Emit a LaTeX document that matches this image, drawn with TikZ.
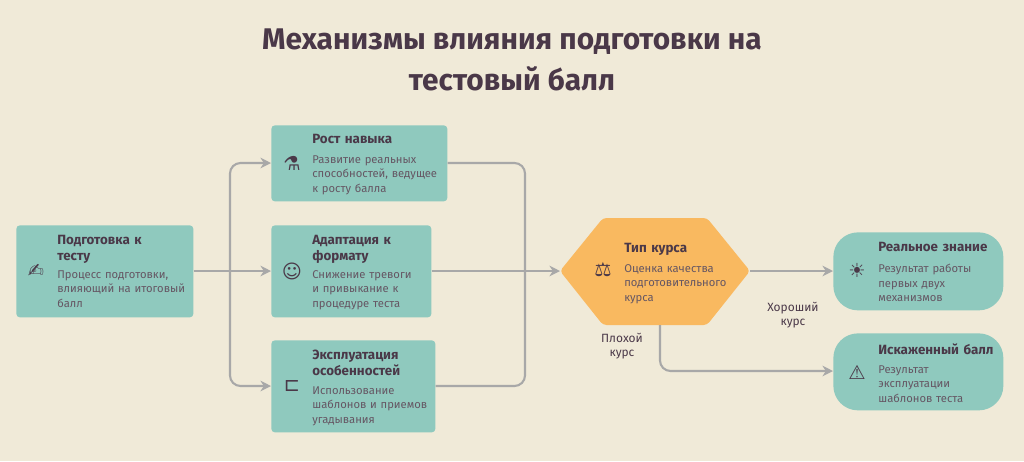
\documentclass[tikz,border=0pt]{standalone}
\usepackage{fontspec}
\setmainfont{Fira Sans}
\newfontfamily\symfont{DejaVu Sans}
\usetikzlibrary{arrows.meta}
\definecolor{bg}{HTML}{F0EAD8}
\definecolor{teal}{HTML}{8FC9BE}
\definecolor{orng}{HTML}{F9B960}
\definecolor{ink}{HTML}{4A3848}
\definecolor{wire}{HTML}{A8A8A8}
\begin{document}
\begin{tikzpicture}[x=0.02cm, y=-0.02cm,
  box/.style={fill=teal, rounded corners=2pt, inner sep=0pt, anchor=north west},
  head/.style={anchor=north west, font=\bfseries\fontsize{7.6}{9}\selectfont, text=ink, text width=#1, align=left, inner sep=0pt},
  body/.style={anchor=north west, font=\fontsize{6.4}{8.3}\selectfont, text=ink!85, text width=#1, align=left, inner sep=0pt},
  icon/.style={font=\symfont\fontsize{11}{11}\selectfont, text=ink},
  wire/.style={draw=wire, line width=1.2pt, rounded corners=6pt},
  tip/.style={-{Stealth[length=6pt,width=6pt]}}]
\fill[bg] (0,0) rectangle (1024,461);
\useasboundingbox (0,0) rectangle (1024,461);

% title
\node[font=\bfseries\fontsize{17}{23}\selectfont, text=ink, align=center] (title) at (512,60)
  {Механизмы влияния подготовки на\\тестовый балл};

% boxes
\node[box, minimum width=177*0.02cm, minimum height=92*0.02cm] (prep) at (16,225) {};
\node[box, minimum width=176*0.02cm, minimum height=76*0.02cm] (skill) at (271,125) {};
\node[box, minimum width=160*0.02cm, minimum height=92*0.02cm] (adapt) at (271,225) {};
\node[box, minimum width=164*0.02cm, minimum height=92*0.02cm] (expl) at (271,340) {};
\node[box, rounded corners=14pt, minimum width=170*0.02cm, minimum height=78*0.02cm] (real) at (833,232) {};
\node[box, rounded corners=14pt, minimum width=170*0.02cm, minimum height=77*0.02cm] (dist) at (833,333) {};
\coordinate (course) at (655,271);
\fill[orng, rounded corners=2pt] (560,271) -- (603,218) -- (707,218) -- (750,271) -- (707,325) -- (603,325) -- cycle;

% texts
\node[head=100*0.02cm] at (57,235) {Подготовка к тесту};
\node[body=135*0.02cm] at (57,270) {Процесс подготовки, влияющий на итоговый балл};
\node[icon] (iprep) at (36,271) {✍};
\node[head=120*0.02cm] at (312,134) {Рост навыка};
\node[body=130*0.02cm] at (312,155) {Развитие реальных способностей, ведущее к росту балла};
\node[icon] (iskill) at (292,163) {⚗};
\node[head=110*0.02cm] at (312,235) {Адаптация к формату};
\node[body=115*0.02cm] at (312,270) {Снижение тревоги и привыкание к процедуре теста};
\node[icon] (iadapt) at (292,271) {☺};
\node[head=110*0.02cm] at (312,350) {Эксплуатация особенностей};
\node[body=118*0.02cm] at (312,386) {Использование шаблонов и приемов угадывания};
\node[icon] (iexpl) at (292,386) {⊏};
\node[head=110*0.02cm] at (624,243) {Тип курса};
\node[body=105*0.02cm] at (624,264) {Оценка качества подготовительного курса};
\node[icon] (icourse) at (603,270) {⚖};
\node[head=120*0.02cm] at (878,242) {Реальное знание};
\node[body=110*0.02cm] at (878,264) {Результат работы первых двух механизмов};
\node[icon] (ireal) at (857,270) {☀};
\node[head=120*0.02cm] at (878,343) {Искаженный балл};
\node[body=100*0.02cm] at (878,365) {Результат эксплуатации шаблонов теста};
\node[icon] (idist) at (857,372) {⚠};

% connectors
\coordinate (split) at (230,271);
\coordinate (merge) at (525,271);
\draw[wire] (prep.east |- split) -- (split);
\draw[wire, tip] (split) |- (skill.west |- 0,163);
\draw[wire, tip] (split) -- (adapt.west |- split);
\draw[wire, tip] (split) |- (expl.west |- 0,386);
\draw[wire] (skill.east |- 0,163) -| (merge);
\draw[wire] (adapt.east |- merge) -- (merge);
\draw[wire] (expl.east |- 0,386) -| (merge);
\draw[wire, tip] (merge) -- (560,271);
\draw[wire, tip] (750,271) -- (real.west |- 0,271);
\node[font=\fontsize{6.8}{8.3}\selectfont, text=ink, align=center] (good) at (793,315) {Хороший\\курс};
\draw[wire, tip] (660,325) |- (dist.west |- 0,371);
\node[font=\fontsize{6.8}{8.3}\selectfont, text=ink, align=center] (bad) at (622,346) {Плохой\\курс};
\end{tikzpicture}
\end{document}
